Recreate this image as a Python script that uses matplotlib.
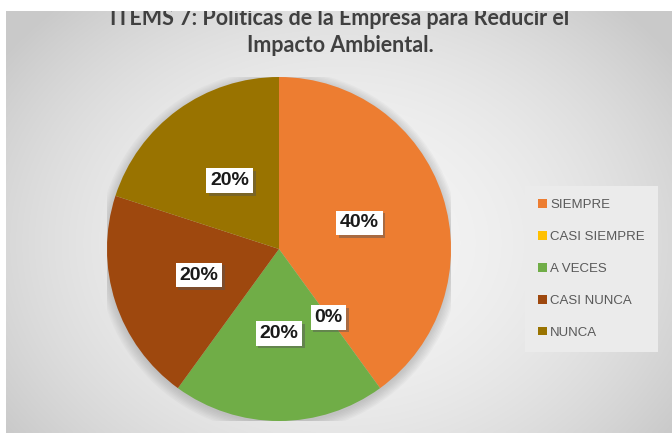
import numpy as np
import matplotlib.pyplot as plt
from matplotlib.patches import Patch, Rectangle, Circle
import matplotlib.patheffects as pe

# datos del grafico
categorias = ['SIEMPRE', 'CASI SIEMPRE', 'A VECES', 'CASI NUNCA', 'NUNCA']
porcentajes = [40, 0, 20, 20, 20]
colores = ['#ED7D31', '#FFC000', '#70AD47', '#9E480E', '#997300']
titulo = ['ITEMS 7: Políticas de la Empresa para Reducir el', 'Impacto Ambiental.']

W, H = 672, 433
fig = plt.figure(figsize=(W / 100, H / 100), dpi=100)
fig.patch.set_facecolor('white')

# fondo con degradado gris (estilo Excel)
x0, top = 6, 11
bg = fig.add_axes([x0 / W, 0, 1 - x0 / W, (H - top) / H], zorder=-5)
yy, xx = np.mgrid[0:1:200j, 0:1:300j]
r = np.sqrt(((xx - 0.5) / 0.6) ** 2 + ((yy - 0.55) / 0.75) ** 2)
g = np.clip(0.96 - 0.16 * r ** 2, 0.79, 1)
bg.imshow(np.dstack([g, g, g]), aspect='auto', extent=[0, 1, 0, 1], interpolation='bicubic')
bg.set_axis_off()

# tarta
cx, cy, rad = 279, 249, 172
ax = fig.add_axes([(cx - rad) / W, (H - cy - rad) / H, 2 * rad / W, 2 * rad / H])
ax.set_facecolor('none')

# sombra suave del circulo
for k in range(8):
    ax.add_patch(Circle((0.0, -0.015), 1.0 + 0.008 * k, color='#808080', alpha=0.05, lw=0, zorder=0))

wedges, texts, autotexts = ax.pie(
    porcentajes, colors=colores, startangle=90, counterclock=False,
    autopct='%d%%', pctdistance=0.49, radius=1,
    wedgeprops=dict(linewidth=0), textprops=dict(zorder=5))
ax.set_xlim(-1, 1)
ax.set_ylim(-1, 1)
ax.set_aspect('equal')

for t in autotexts:
    t.set_fontfamily('Liberation Sans')
    t.set_fontweight('bold')
    t.set_fontsize(14)
    t.set_color('#1a1a1a')
    t.set_bbox(dict(boxstyle='square,pad=0.2', facecolor='white', edgecolor='none'))
    # sombra de la etiqueta
    t.get_bbox_patch().set_path_effects([
        pe.SimplePatchShadow(offset=(2, -2), shadow_rgbFace='#555555', alpha=0.45),
        pe.Normal()])

# leyenda
handles = [Patch(facecolor=c, edgecolor='none') for c in colores]
leg = fig.legend(handles, categorias, loc='center left',
                 bbox_to_anchor=(525 / W, (H - 269) / H), bbox_transform=fig.transFigure,
                 frameon=True, fancybox=False, facecolor='#ebebeb', edgecolor='none', framealpha=1,
                 prop={'family': 'Liberation Sans', 'size': 9.5},
                 handlelength=0.65, handleheight=0.65, handletextpad=0.25,
                 labelspacing=1.5, borderpad=1.0, borderaxespad=0)
for t in leg.get_texts():
    t.set_color('#595959')

# titulo
fig.text(340 / W, (H - 25) / H, titulo[0], ha='center', va='baseline',
         fontfamily='Lato', fontweight='bold', fontsize=15.5, color='#404040')
fig.text(340 / W, (H - 52.5) / H, titulo[1], ha='center', va='baseline',
         fontfamily='Lato', fontweight='bold', fontsize=15.5, color='#404040')

# franja blanca superior e izquierda (captura recortada)
fig.patches.append(Rectangle((0, (H - top) / H), 1, top / H, transform=fig.transFigure,
                             facecolor='white', edgecolor='none', zorder=20))
fig.patches.append(Rectangle((0, 0), x0 / W, 1, transform=fig.transFigure,
                             facecolor='white', edgecolor='none', zorder=20))

fig.savefig('out.png', dpi=100)
